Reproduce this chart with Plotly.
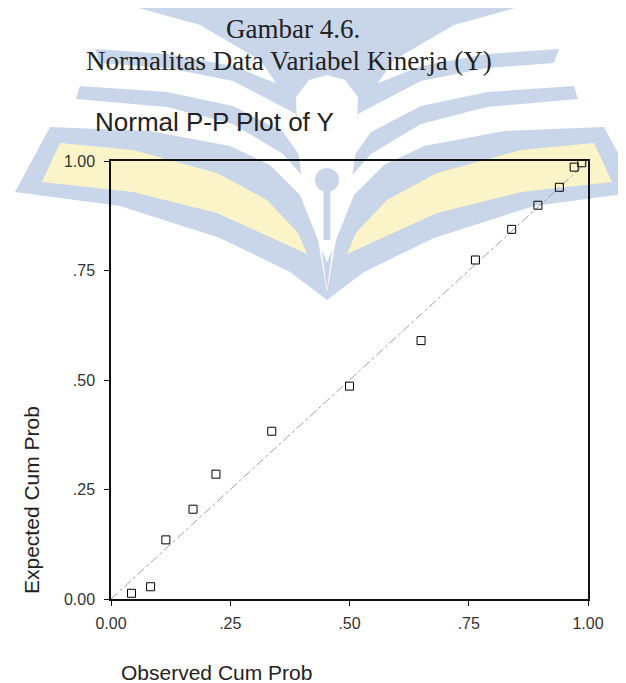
import plotly.graph_objects as go

# ---- data ----
observed = [0.043, 0.083, 0.115, 0.172, 0.220, 0.337, 0.500, 0.650, 0.764, 0.840, 0.895, 0.940, 0.971, 0.987]
expected = [0.013, 0.028, 0.135, 0.205, 0.285, 0.383, 0.486, 0.590, 0.774, 0.844, 0.899, 0.940, 0.986, 0.996]
diag = [0.0, 1.0]
tick_vals = [0.0, 0.25, 0.5, 0.75, 1.0]
tick_text = ["0.00", ".25", ".50", ".75", "1.00"]

# page body has an 8px margin, so the figure is drawn 8px in and 8px down
OFF = 8
W, H = 626, 683
L, R, T, B = 111, 38, 161, 84          # in window pixels
PW, PH = W - L - R, H - T - B


def px(x):
    return (x - L) / PW


def py(y):
    return (H - B - y) / PH


def path(points):
    pts = [f"{px(x):.4f},{py(y):.4f}" for x, y in points]
    return "M " + " L ".join(pts) + " Z"


def mirror(points):
    return [(654 - x, y) for x, y in points][::-1]


BLUE = "rgb(201,214,234)"
YEL = "rgb(251,244,200)"

wingA = [(50, 127), (150, 131), (230, 146), (270, 165), (300, 195), (318, 240), (327, 292),
         (327, 300), (290, 272), (220, 238), (120, 206), (15, 192)]
yelA = [(60, 143), (133, 150), (217, 173), (267, 200), (298, 233), (307, 254),
        (283, 243), (217, 213), (133, 192), (42, 182)]
bandB = [(80, 86), (167, 92), (233, 106), (283, 132), (310, 170),
         (315, 190), (283, 154), (233, 124), (167, 107), (76, 99)]
bandC = [(95, 49), (167, 54), (233, 66), (283, 86), (300, 100),
         (300, 116), (233, 81), (167, 68), (100, 63)]
nib = [(110, 0), (200, 25), (260, 60), (295, 110), (315, 200), (327, 290),
       (339, 200), (359, 110), (394, 60), (454, 25), (544, 0)]
lens = [(296, 97), (298, 150), (308, 220), (327, 262), (346, 220), (356, 150), (358, 97),
        (345, 80), (327, 75), (309, 80)]

shapes = []
for pts, col in [(bandC, BLUE), (mirror(bandC), BLUE), (bandB, BLUE), (mirror(bandB), BLUE),
                 (nib, BLUE), (lens, "white"),
                 (wingA, BLUE), (mirror(wingA), BLUE), (yelA, YEL), (mirror(yelA), YEL)]:
    shapes.append(dict(type="path", xref="paper", yref="paper", path=path(pts),
                       fillcolor=col, line=dict(width=0), layer="below"))
# pen nib breather hole + slit
shapes.append(dict(type="circle", xref="paper", yref="paper",
                   x0=px(315), x1=px(339), y0=py(192), y1=py(168),
                   fillcolor=BLUE, line=dict(width=0), layer="below"))
shapes.append(dict(type="rect", xref="paper", yref="paper",
                   x0=px(323.5), x1=px(330.5), y0=py(240), y1=py(185),
                   fillcolor=BLUE, line=dict(width=0), layer="below"))

fig = go.Figure()
fig.add_trace(go.Scatter(x=diag, y=diag, mode="lines",
                         line=dict(color="rgb(160,160,160)", width=1, dash="dashdot"),
                         hoverinfo="skip", showlegend=False))
fig.add_trace(go.Scatter(x=observed, y=expected, mode="markers",
                         marker=dict(symbol="square-open", size=8, color="black",
                                     line=dict(width=1, color="black")),
                         showlegend=False))

sans = "Liberation Sans, Arial, sans-serif"
serif = "Liberation Serif, Times New Roman, serif"
annotations = [
    dict(text="Gambar 4.6.", x=px(293), y=py(29), xref="paper", yref="paper",
         showarrow=False, font=dict(family=serif, size=27, color="#222"), xanchor="center", yanchor="middle"),
    dict(text="Normalitas Data Variabel Kinerja (Y)", x=px(289), y=py(61), xref="paper", yref="paper",
         showarrow=False, font=dict(family=serif, size=27, color="#222"), xanchor="center", yanchor="middle"),
    dict(text="Normal P-P Plot of Y", x=px(93), y=py(122), xref="paper", yref="paper",
         showarrow=False, font=dict(family=sans, size=26, color="#222"), xanchor="left", yanchor="middle"),
    dict(text="Observed Cum Prob", x=px(216), y=py(672), xref="paper", yref="paper",
         showarrow=False, font=dict(family=sans, size=21, color="#222"), xanchor="center", yanchor="middle"),
    dict(text="Expected Cum Prob", x=px(31), y=py(500), xref="paper", yref="paper", textangle=-90,
         showarrow=False, font=dict(family=sans, size=21, color="#222"), xanchor="center", yanchor="middle"),
]

axis_common = dict(range=[0, 1], tickvals=tick_vals, ticktext=tick_text, showgrid=False, zeroline=False,
                   showline=True, linecolor="#111", linewidth=1.5, mirror=True,
                   ticks="outside", ticklen=5, tickcolor="#111", tickwidth=1,
                   tickfont=dict(family=sans, size=16, color="#333"))

fig.update_layout(
    width=W - OFF, height=H - OFF,
    margin=dict(l=L - OFF, r=R, t=T - OFF, b=B),
    paper_bgcolor="white", plot_bgcolor="rgba(0,0,0,0)",
    xaxis=dict(**axis_common, ticklabelstandoff=4),
    yaxis=dict(**axis_common, ticklabelstandoff=6),
    shapes=shapes, annotations=annotations, showlegend=False,
)
fig.write_html("out.html")
